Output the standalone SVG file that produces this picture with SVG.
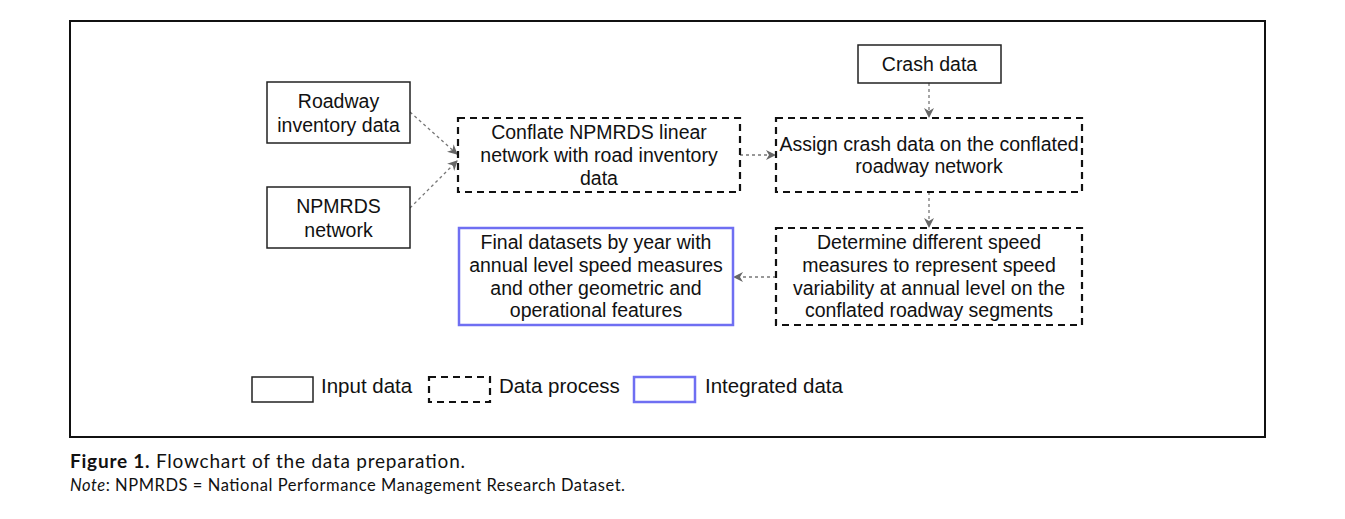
<svg xmlns="http://www.w3.org/2000/svg" width="1345" height="519" viewBox="0 0 1345 519">
<style>
.t{font-family:"Liberation Sans",Arial,sans-serif;font-size:19.5px;fill:#111;text-anchor:middle}
.lt{font-family:"Liberation Sans",Arial,sans-serif;font-size:20.5px;fill:#111}
.in{fill:#fff;stroke:#222;stroke-width:1.5}
.pr{fill:#fff;stroke:#111;stroke-width:2.2;stroke-dasharray:7 5}
.ig{fill:#fff;stroke:#6f6ff2;stroke-width:2.5}
.c{fill:none;stroke:#777;stroke-width:1.3;stroke-dasharray:3 3}
.cap{font-family:"Lato","Open Sans",sans-serif;fill:#111}
</style>
<defs>
<marker id="ah" viewBox="0 0 10 10" refX="9" refY="5" markerWidth="10" markerHeight="10" markerUnits="userSpaceOnUse" orient="auto">
<path d="M0,0 L10,5 L0,10 L3,5 Z" fill="#666"/>
</marker>
</defs>
<rect x="0" y="0" width="1345" height="519" fill="#fff"/>
<rect x="70" y="21" width="1195" height="416" fill="none" stroke="#111" stroke-width="2"/>

<g id="connectors">
<line class="c" x1="410" y1="112" x2="457" y2="154" marker-end="url(#ah)"/>
<line class="c" x1="410" y1="208" x2="457" y2="161" marker-end="url(#ah)"/>
<line class="c" x1="740" y1="155" x2="775" y2="155" marker-end="url(#ah)"/>
<line class="c" x1="929" y1="83" x2="929" y2="117" marker-end="url(#ah)"/>
<line class="c" x1="929" y1="192" x2="929" y2="227" marker-end="url(#ah)"/>
<line class="c" x1="776" y1="277" x2="734" y2="277" marker-end="url(#ah)"/>
</g>

<g id="roadway">
<rect class="in" x="267" y="82" width="143" height="61"/>
<text class="t" x="338.5" y="108">Roadway</text>
<text class="t" x="338.5" y="132">inventory data</text>
</g>
<g id="npmrds">
<rect class="in" x="267" y="187" width="143" height="61"/>
<text class="t" x="338.5" y="213">NPMRDS</text>
<text class="t" x="338.5" y="237">network</text>
</g>
<g id="conflate">
<rect class="pr" x="458" y="118" width="282" height="74"/>
<text class="t" x="599" y="139">Conflate NPMRDS linear</text>
<text class="t" x="599" y="162">network with road inventory</text>
<text class="t" x="599" y="185">data</text>
</g>
<g id="crash">
<rect class="in" x="858" y="45" width="143" height="38"/>
<text class="t" x="929.5" y="71">Crash data</text>
</g>
<g id="assign">
<rect class="pr" x="776" y="118" width="306" height="74"/>
<text class="t" x="929" y="151">Assign crash data on the conflated</text>
<text class="t" x="929" y="173">roadway network</text>
</g>
<g id="determine">
<rect class="pr" x="776" y="228" width="306" height="97"/>
<text class="t" x="929" y="249">Determine different speed</text>
<text class="t" x="929" y="272">measures to represent speed</text>
<text class="t" x="929" y="295">variability at annual level on the</text>
<text class="t" x="929" y="317">conflated roadway segments</text>
</g>
<g id="final">
<rect class="ig" x="459" y="228" width="274" height="97"/>
<text class="t" x="596" y="249">Final datasets by year with</text>
<text class="t" x="596" y="272">annual level speed measures</text>
<text class="t" x="596" y="295">and other geometric and</text>
<text class="t" x="596" y="317">operational features</text>
</g>

<g id="legend">
<rect class="in" x="252" y="377" width="61" height="25"/>
<text class="lt" x="321" y="393">Input data</text>
<rect class="pr" x="429" y="377" width="61" height="25"/>
<text class="lt" x="499" y="393">Data process</text>
<rect class="ig" x="634" y="377" width="61" height="25"/>
<text class="lt" x="705" y="393">Integrated data</text>
</g>

<g id="caption">
<text class="cap" x="70" y="468" font-size="19" textLength="395" lengthAdjust="spacing"><tspan font-weight="bold">Figure 1.</tspan>  Flowchart of the data preparation.</text>
<text class="cap" x="70" y="491" font-size="16.5" textLength="555" lengthAdjust="spacing"><tspan font-style="italic">Note</tspan>: NPMRDS = National Performance Management Research Dataset.</text>
</g>
</svg>
